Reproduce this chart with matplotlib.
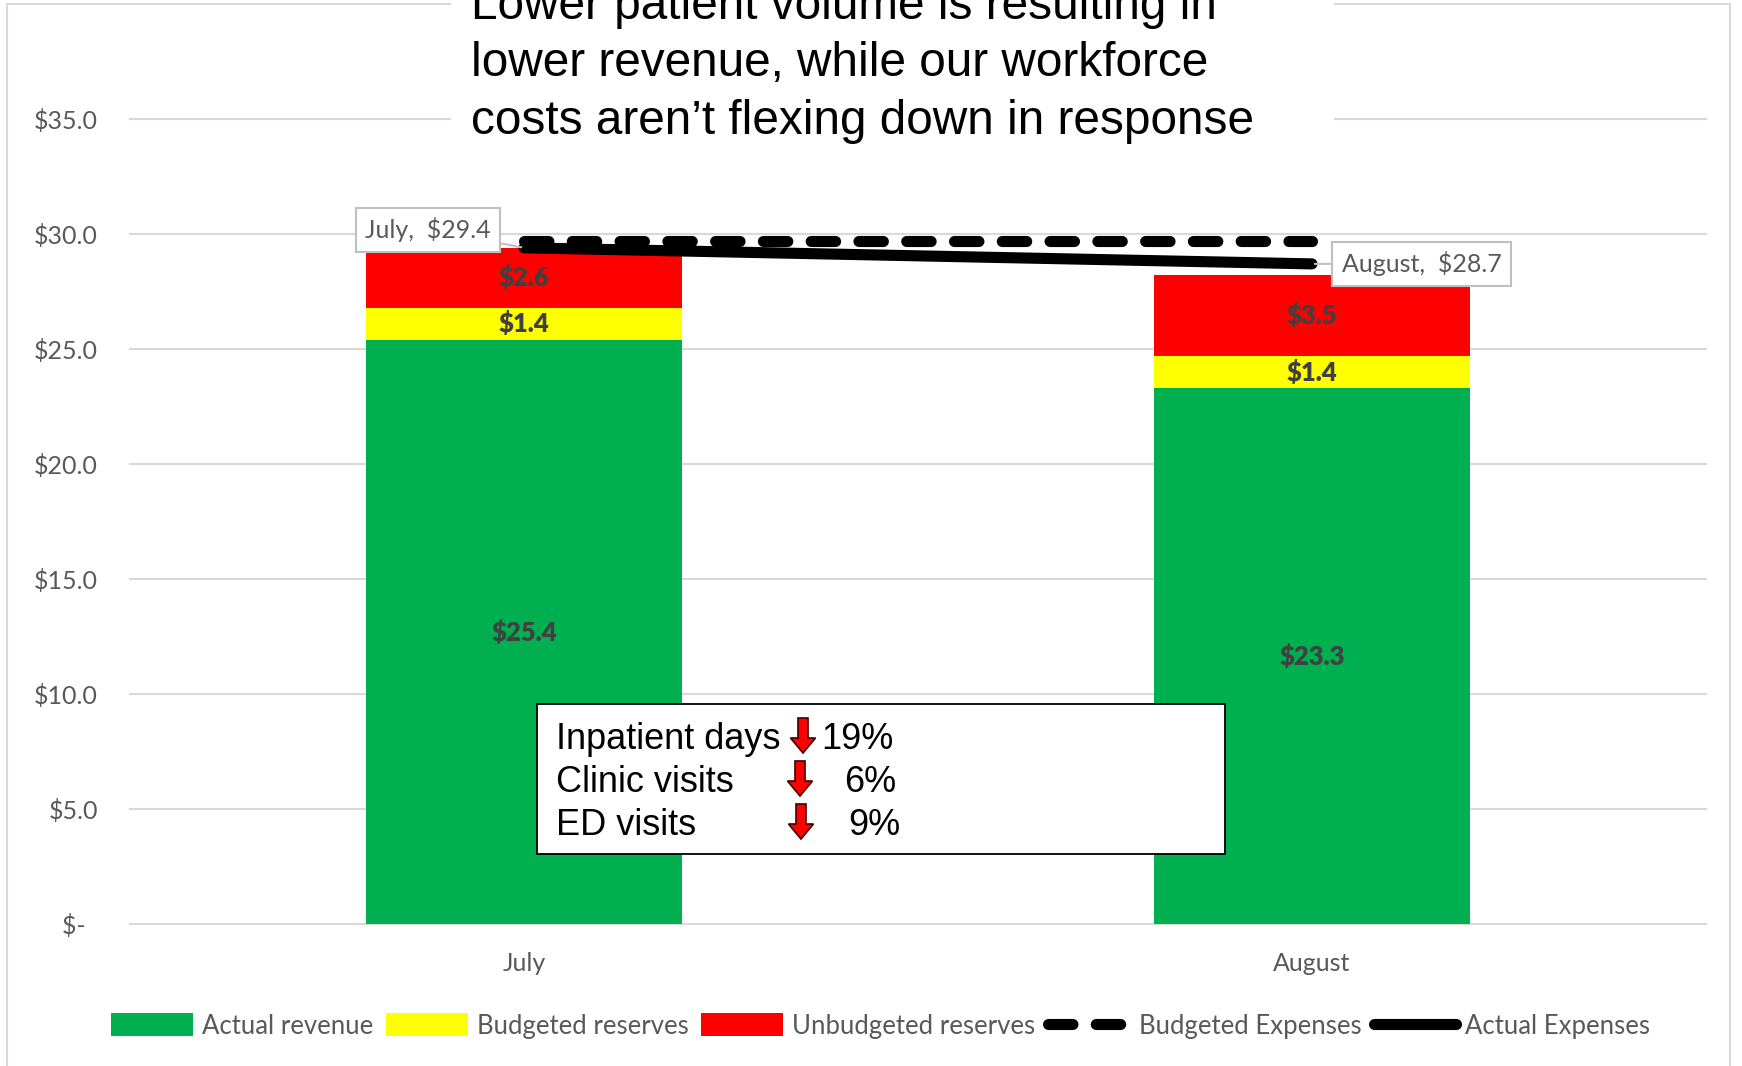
import numpy as np
import matplotlib.pyplot as plt
from matplotlib.patches import Rectangle, FancyArrow

# datos del gráfico (millones de $)
meses = ['July', 'August']
ingreso_real = [25.4, 23.3]
reservas_presup = [1.4, 1.4]
reservas_no_presup = [2.6, 3.5]
gastos_presup = [29.7, 29.7]
gastos_reales = [29.4, 28.7]

indicadores = ['Inpatient days', 'Clinic visits', 'ED visits']
caidas = [19, 6, 9]

titulo = ['Lower patient volume is resulting in',
          'lower revenue, while our workforce',
          'costs aren\u2019t flexing down in response']

W, H = 1742, 1066
gris = '#595959'
fuente_xl = 'Lato'
fuente_ppt = 'Liberation Sans'

fig = plt.figure(figsize=(W / 100, H / 100), dpi=100)
fig.patch.set_facecolor('white')
ax = fig.add_axes([130 / W, 1 - 924.4 / H, 1576 / W, 805.5 / H])

x = np.arange(len(meses))
ancho = 0.4
b1 = ax.bar(x, ingreso_real, ancho, color='#00b050', label='Actual revenue', zorder=2)
base2 = np.array(ingreso_real)
b2 = ax.bar(x, reservas_presup, ancho, bottom=base2, color='#ffff00',
            label='Budgeted reserves', zorder=2)
base3 = base2 + np.array(reservas_presup)
b3 = ax.bar(x, reservas_no_presup, ancho, bottom=base3, color='#ff0000',
            label='Unbudgeted reserves', zorder=2)

for b in (b1, b2, b3):
    ax.bar_label(b, labels=['${:.1f}'.format(v) for v in b.datavalues],
                 label_type='center', color='#404040', fontweight='heavy',
                 fontsize=18.5, family=fuente_xl)

l1, = ax.plot(x, gastos_presup, color='black', lw=8, dashes=(2.2, 2.1),
              dash_capstyle='round', label='Budgeted Expenses', zorder=3)
l2, = ax.plot(x, gastos_reales, color='black', lw=8, solid_capstyle='round',
              label='Actual Expenses', zorder=3)

# etiquetas de la línea de gastos reales
desplaz = [(-69, 13), (79, 0)]
for i, v in enumerate(gastos_reales):
    ax.annotate('{},  ${:.1f}'.format(meses[i], v), xy=(x[i], v),
                xytext=desplaz[i], textcoords='offset points',
                ha='center', va='center', fontsize=18, family=fuente_xl, color=gris,
                bbox=dict(boxstyle='square,pad=0.38', fc='white', ec='#bfbfbf', lw=1.5),
                arrowprops=dict(arrowstyle='-', color='#bfbfbf', lw=1.5,
                                shrinkA=0, shrinkB=2),
                zorder=5)

ax.set_xlim(-0.5, 1.5)
ax.set_ylim(0, 35)
ax.set_yticks(np.arange(0, 36, 5))
ax.set_yticklabels(['$-  '] + ['${:.1f}'.format(v) for v in np.arange(5, 36, 5)])
ax.set_xticks(x)
ax.set_xticklabels(meses)
ax.tick_params(axis='y', length=0, pad=23, labelsize=18, labelcolor=gris)
ax.tick_params(axis='x', length=0, pad=20, labelsize=18, labelcolor=gris)
for t in ax.get_xticklabels() + ax.get_yticklabels():
    t.set_family(fuente_xl)
ax.yaxis.grid(True, color='#d9d9d9', lw=1.5, zorder=0)
for g in ax.get_ygridlines():
    g.set_clip_on(False)
ax.set_axisbelow(True)
for s in ax.spines.values():
    s.set_visible(False)

ley = fig.legend(handles=[b1, b2, b3, l1, l2], loc='center',
                 bbox_to_anchor=(0.5055, 1 - 1026 / H), ncol=5, frameon=False,
                 handlelength=3.2, handleheight=1.0, handletextpad=0.35,
                 columnspacing=0.48, prop={'family': fuente_xl, 'size': 18.5})
for t in ley.get_texts():
    t.set_color(gris)

# borde del área del gráfico
fig.patches.append(Rectangle((7 / W, -0.01), 1723 / W, 1 - 4 / H + 0.01,
                             transform=fig.transFigure, fill=False,
                             ec='#d9d9d9', lw=1.5, zorder=1))

# título con fondo blanco
fig.patches.append(Rectangle((451 / W, 1 - 150 / H), 883 / W, 150 / H,
                             transform=fig.transFigure, fc='white', ec='none', zorder=2))
for i, linea in enumerate(titulo):
    fig.text(471 / W, 1 - (19 + 57.5 * i) / H, linea, ha='left', va='baseline',
             fontsize=34.4, family=fuente_ppt, color='black', zorder=3)

# recuadro con la caída de volumen
fig.patches.append(Rectangle((537 / W, 1 - 854 / H), 688 / W, 150 / H,
                             transform=fig.transFigure, fc='white', ec='black',
                             lw=1.3, zorder=4))
base_y = [749, 792, 835]
pct_x = [821, 844, 848]
flecha_x = [803, 800, 801]
for i, nombre in enumerate(indicadores):
    fig.text(556 / W, 1 - base_y[i] / H, nombre, ha='left', va='baseline',
             fontsize=26, family=fuente_ppt, color='black', zorder=5)
    fig.text(pct_x[i] / W, 1 - base_y[i] / H, '{}%'.format(caidas[i]),
             ha='left', va='baseline', fontsize=26, family=fuente_ppt,
             color='black', zorder=5)
    arriba = base_y[i] - 31
    fig.patches.append(FancyArrow(flecha_x[i] / W, 1 - arriba / H, 0, -35 / H,
                                  width=10 / W, head_width=25 / W, head_length=15 / H,
                                  length_includes_head=True, transform=fig.transFigure,
                                  fc='#ff0000', ec='#400000', lw=1.2, zorder=5))

fig.savefig('out.png', dpi=100)
